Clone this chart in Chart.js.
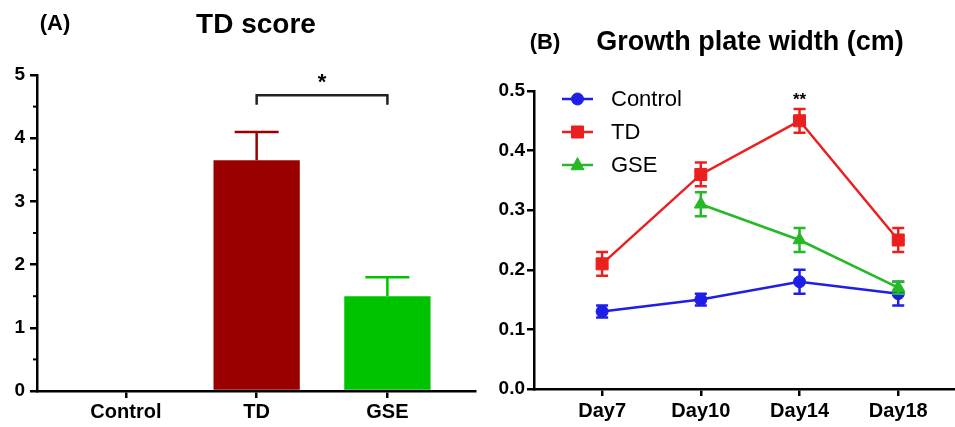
<!DOCTYPE html>
<html><head><meta charset="utf-8">
<script src="https://cdn.jsdelivr.net/npm/chart.js@4"></script>
<style>
body{margin:0;background:#fff;width:955px;height:427px;overflow:hidden;position:relative}
canvas{position:absolute;top:0}
#a{left:0}#b{left:480px}
</style></head>
<body>
<canvas id="a" width="480" height="427"></canvas>
<canvas id="b" width="485" height="427"></canvas>
<script>
// ---- Panel A data ----
const scoreCategories = ['Control', 'TD', 'GSE'];
const scoreValues = [0, 3.65, 1.5];
const scoreErrors = [0, 0.45, 0.3];
const scoreTicks = [0, 1, 2, 3, 4, 5];
// ---- Panel B data ----
const days = ['Day7', 'Day10', 'Day14', 'Day18'];
const controlValues = [0.13, 0.15, 0.18, 0.16];
const controlErrors = [0.01, 0.01, 0.02, 0.02];
const tdValues = [0.21, 0.36, 0.45, 0.25];
const tdErrors = [0.02, 0.02, 0.02, 0.02];
const gseValues = [null, 0.31, 0.25, 0.17];
const gseErrors = [null, 0.02, 0.02, 0.01];
const widthTicks = [0, 0.1, 0.2, 0.3, 0.4, 0.5];

const FONT = "'Liberation Sans', Arial, sans-serif";
const BLUE = '#1e1ee6', RED = '#ec1f1f', GREEN = '#26b826';

function text(ctx, s, x, y, font, align) {
  ctx.save();
  ctx.font = font; ctx.fillStyle = '#000';
  ctx.textAlign = align || 'center'; ctx.textBaseline = 'middle';
  ctx.fillText(s, x, y);
  ctx.restore();
}

function marker(ctx, style, x, y, r, color) {
  ctx.save();
  ctx.fillStyle = color; ctx.strokeStyle = color; ctx.lineWidth = 1;
  ctx.beginPath();
  if (style === 'circle') { ctx.arc(x, y, r, 0, Math.PI * 2); }
  else if (style === 'rect') { const s = r * Math.SQRT1_2; ctx.rect(x - s, y - s, 2 * s, 2 * s); }
  else if (style === 'triangle') {
    ctx.moveTo(x, y - r);
    ctx.lineTo(x + r * Math.cos(Math.PI / 6), y + r * 0.5 + 1);
    ctx.lineTo(x - r * Math.cos(Math.PI / 6), y + r * 0.5 + 1);
    ctx.closePath();
  }
  ctx.fill(); ctx.stroke();
  ctx.restore();
}

// ---------------- Panel A ----------------
const panelA = {
  id: 'panelA',
  afterDatasetsDraw(chart) {
    const ctx = chart.ctx, xs = chart.scales.x, ys = chart.scales.y;
    const ds = chart.data.datasets[0];
    ctx.save();
    ctx.lineWidth = 2.5;
    scoreErrors.forEach((e, i) => {
      if (!e) return;
      const x = xs.getPixelForValue(i);
      const y0 = ys.getPixelForValue(scoreValues[i]);
      const y1 = ys.getPixelForValue(scoreValues[i] + e);
      ctx.strokeStyle = ds.backgroundColor[i];
      ctx.beginPath();
      ctx.moveTo(x, y0); ctx.lineTo(x, y1);
      ctx.moveTo(x - 22, y1); ctx.lineTo(x + 22, y1);
      ctx.stroke();
    });
    // significance bracket TD vs GSE
    const bx0 = xs.getPixelForValue(1), bx1 = xs.getPixelForValue(2);
    const by = ys.getPixelForValue(4.68), byEnd = ys.getPixelForValue(4.53);
    ctx.strokeStyle = '#222'; ctx.lineWidth = 2.5;
    ctx.beginPath();
    ctx.moveTo(bx0, byEnd); ctx.lineTo(bx0, by); ctx.lineTo(bx1, by); ctx.lineTo(bx1, byEnd);
    ctx.stroke();
    ctx.restore();
    text(ctx, '*', (bx0 + bx1) / 2, ys.getPixelForValue(4.88), 'bold 22px ' + FONT);
    // minor ticks on y axis
    ctx.save();
    ctx.strokeStyle = '#000'; ctx.lineWidth = 2;
    for (let v = 0.5; v < 5; v += 1) {
      const y = ys.getPixelForValue(v);
      ctx.beginPath(); ctx.moveTo(chart.chartArea.left - 4, y); ctx.lineTo(chart.chartArea.left, y); ctx.stroke();
    }
    ctx.restore();
  },
  afterDraw(chart) {
    const ctx = chart.ctx;
    text(ctx, '(A)', 55, 24, 'bold 22px ' + FONT);
    text(ctx, 'TD score', 256, 25, 'bold 28px ' + FONT);
  }
};

new Chart(document.getElementById('a'), {
  type: 'bar',
  data: {
    datasets: [{
      data: scoreCategories.map((c, i) => ({ x: i, y: scoreValues[i] })),
      backgroundColor: ['#ffffff', '#9b0000', '#00c300'],
      borderWidth: 0,
      barPercentage: 0.66,
      categoryPercentage: 1
    }]
  },
  options: {
    responsive: false, animation: false,
    layout: { padding: { top: 75, right: 5, left: 0, bottom: 0 } },
    plugins: { legend: { display: false }, tooltip: { enabled: false } },
    scales: {
      x: {
        type: 'linear', min: -0.68, max: 2.67, offset: false,
        afterBuildTicks: s => { s.ticks = scoreCategories.map((c, i) => ({ value: i })); },
        afterFit: s => { s.height = 36; },
        ticks: { callback: v => scoreCategories[v], color: '#000', font: { family: FONT, size: 20, weight: 'bold' }, padding: 2, maxRotation: 0 },
        grid: { offset: false, drawOnChartArea: false, drawTicks: true, tickLength: 7, color: '#000', lineWidth: 2.5 },
        border: { display: true, color: '#000', width: 2.5 }
      },
      y: {
        min: 0, max: 5,
        afterBuildTicks: s => { s.ticks = scoreTicks.map(v => ({ value: v })); },
        afterFit: s => { s.width = 37; },
        ticks: { color: '#000', font: { family: FONT, size: 19, weight: 'bold' }, padding: 5 },
        grid: { drawOnChartArea: false, drawTicks: true, tickLength: 7, color: '#000', lineWidth: 2.5 },
        border: { display: true, color: '#000', width: 2.5 }
      }
    }
  },
  plugins: [panelA]
});

// ---------------- Panel B ----------------
const seriesB = [
  { label: 'Control', values: controlValues, errors: controlErrors, color: BLUE, style: 'circle', radius: 6 },
  { label: 'TD', values: tdValues, errors: tdErrors, color: RED, style: 'rect', radius: 8.5 },
  { label: 'GSE', values: gseValues, errors: gseErrors, color: GREEN, style: 'triangle', radius: 7.5 }
];

const panelB = {
  id: 'panelB',
  afterDatasetDraw(chart, args) {
    const ctx = chart.ctx, xs = chart.scales.x, ys = chart.scales.y;
    const s = seriesB[args.index];
    ctx.save();
    ctx.strokeStyle = s.color; ctx.lineWidth = 2.5;
    s.values.forEach((v, i) => {
      if (v === null) return;
      const e = s.errors[i];
      const x = xs.getPixelForValue(i);
      const yt = ys.getPixelForValue(v + e), yb = ys.getPixelForValue(v - e);
      ctx.beginPath();
      ctx.moveTo(x, yt); ctx.lineTo(x, yb);
      ctx.moveTo(x - 6, yt); ctx.lineTo(x + 6, yt);
      ctx.moveTo(x - 6, yb); ctx.lineTo(x + 6, yb);
      ctx.stroke();
    });
    ctx.restore();
  },
  afterDraw(chart) {
    const ctx = chart.ctx, xs = chart.scales.x, ys = chart.scales.y;
    text(ctx, '(B)', 65, 43, 'bold 22px ' + FONT);
    text(ctx, 'Growth plate width (cm)', 270, 43, 'bold 27px ' + FONT);
    text(ctx, '**', xs.getPixelForValue(2), ys.getPixelForValue(0.484), 'bold 17px ' + FONT);
    // legend
    const rows = [99, 132, 165];
    seriesB.forEach((s, k) => {
      const y = rows[k];
      ctx.save();
      ctx.strokeStyle = s.color; ctx.lineWidth = 2.5;
      ctx.beginPath(); ctx.moveTo(82, y); ctx.lineTo(113, y); ctx.stroke();
      ctx.restore();
      marker(ctx, s.style, 97.5, y, s.radius, s.color);
      text(ctx, s.label, 131, y + 1, '22px ' + FONT, 'left');
    });
  }
};

new Chart(document.getElementById('b'), {
  type: 'line',
  data: {
    datasets: seriesB.map((s, k) => ({
      label: s.label,
      data: s.values.map((v, i) => ({ x: i, y: v })).filter(p => p.y !== null),
      borderColor: s.color,
      backgroundColor: s.color,
      borderWidth: 2.5,
      pointStyle: s.style,
      pointRadius: s.radius,
      pointBorderWidth: 1,
      pointBackgroundColor: s.color,
      pointBorderColor: s.color,
      tension: 0,
      order: 3 - k
    }))
  },
  options: {
    responsive: false, animation: false,
    layout: { padding: { top: 91, right: 0, left: 0, bottom: 0 } },
    plugins: { legend: { display: false }, tooltip: { enabled: false } },
    scales: {
      x: {
        type: 'linear', min: -0.69, max: 3.58,
        afterBuildTicks: s => { s.ticks = days.map((d, i) => ({ value: i })); },
        afterFit: s => { s.height = 38; },
        ticks: { callback: v => days[v], color: '#000', font: { family: FONT, size: 20, weight: 'bold' }, padding: 3, maxRotation: 0 },
        grid: { drawOnChartArea: false, drawTicks: true, tickLength: 7, color: '#000', lineWidth: 2.5 },
        border: { display: true, color: '#000', width: 2.5 }
      },
      y: {
        min: 0, max: 0.5,
        afterBuildTicks: s => { s.ticks = widthTicks.map(v => ({ value: v })); },
        afterFit: s => { s.width = 54; },
        ticks: { callback: v => v.toFixed(1), color: '#000', font: { family: FONT, size: 19, weight: 'bold' }, padding: 2 },
        grid: { drawOnChartArea: false, drawTicks: true, tickLength: 7, color: '#000', lineWidth: 2.5 },
        border: { display: true, color: '#000', width: 2.5 }
      }
    }
  },
  plugins: [panelB]
});
</script>
</body></html>
